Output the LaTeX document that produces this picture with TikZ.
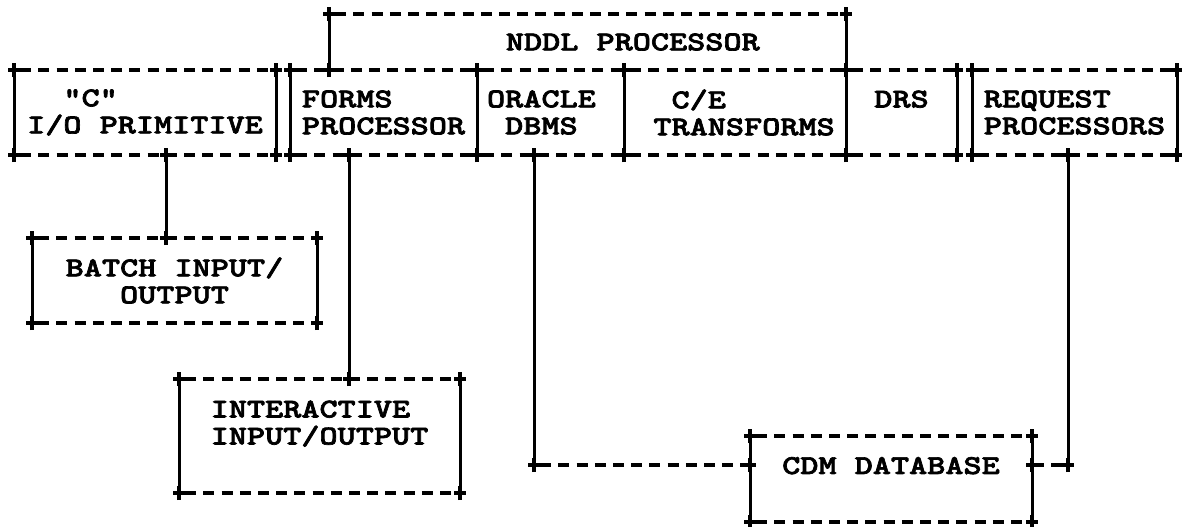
\documentclass[tikz,border=0pt]{standalone}
\usepackage{fontspec}
\newfontfamily\asciifont[FakeStretch=1.27, FakeBold=2.5]{lmmonolt10-bold.otf}
\usepackage{tikz}
\usetikzlibrary{positioning}
\tikzstyle{boxnode}=[rectangle, inner sep=0pt, outer sep=0pt, align=left,
  font=\asciifont\fontsize{13.6}{13.5}\selectfont]
\tikzstyle{hline}=[line width=1.8pt, dash pattern=on 5.5pt off 3.6pt, dash phase=6pt]
\tikzstyle{vline}=[line width=1.5pt]
\tikzstyle{crossline}=[line width=1.7pt]
\newcommand{\crossat}[1]{\draw[crossline] (#1) +(-3pt,0) -- +(3pt,0) +(0,-3.5pt) -- +(0,3.5pt);}

\begin{document}
\begin{tikzpicture}[x=0.5pt, y=-0.5pt]
        \useasboundingbox (0,0) rectangle (1182,526);

        % top row of modules
        \node[boxnode, minimum width=131pt, minimum height=42.5pt] (cprim) at (145,112.5) {\phantom{XX}"C"\\I/O PRIMITIVE};
        \node[boxnode, minimum width=93.5pt, minimum height=42.5pt, right=7pt of cprim] (forms) {FORMS\\PROCESSOR};
        \node[boxnode, minimum width=73.5pt, minimum height=42.5pt, right=0pt of forms] (oracle) {ORACLE\phantom{X}\\\phantom{X}DBMS};
        \node[boxnode, minimum width=111pt, minimum height=42.5pt, right=0pt of oracle] (ce) {\phantom{XX}C/E\\\phantom{X}TRANSFORMS};
        \node[boxnode, minimum width=55.5pt, minimum height=42.5pt, right=0pt of ce] (drs) {DRS\\\phantom{X}};
        \node[boxnode, minimum width=102.5pt, minimum height=42.5pt, right=7.5pt of drs] (request) {REQUEST\\PROCESSORS};
        \node[boxnode, minimum width=258.5pt, minimum height=28pt] (nddl) at (587.5,42) {\phantom{XXXXX}NDDL PROCESSOR};

        % lower boxes
        \node[boxnode, minimum width=142.5pt, minimum height=42.5pt] (batch) at (174.5,280.5) {BATCH INPUT/\\\phantom{XXX}OUTPUT};
        \node[boxnode, minimum width=140.5pt, minimum height=57pt] (inter) at (319.5,436) {INTERACTIVE\\INPUT/OUTPUT\\\phantom{X}};
        \node[boxnode, minimum width=141pt, minimum height=43pt] (cdm) at (891,479) {CDM DATABASE\\\phantom{X}};

        % box outlines
        \foreach \b in {cprim,forms,oracle,ce,drs,request,batch,inter,cdm} {
            \draw[hline] (\b.north west) -- (\b.north east) (\b.south west) -- (\b.south east);
            \draw[vline] (\b.north west) -- (\b.south west) (\b.north east) -- (\b.south east);
            \crossat{\b.north west}\crossat{\b.north east}\crossat{\b.south west}\crossat{\b.south east}
        }
        \draw[hline] (nddl.north west) -- (nddl.north east);
        \draw[vline] (nddl.north west) -- (nddl.south west) (nddl.north east) -- (nddl.south east);
        \crossat{nddl.north west}\crossat{nddl.north east}\crossat{nddl.south west}\crossat{nddl.south east}

        % connections
        \coordinate (tapc) at (166,0);
        \coordinate (tapf) at (349,0);
        \coordinate (tapo) at (534,465);
        \coordinate (tapr) at (1068,465);

        \draw[vline] (tapc |- cprim.south) -- (tapc |- batch.north);
        \draw[vline] (tapf |- forms.south) -- (tapf |- inter.north);
        \draw[vline] (tapo |- oracle.south) -- (tapo);
        \draw[hline] (tapo) -- (tapo -| cdm.west);
        \draw[vline] (tapr |- request.south) -- (tapr);
        \draw[hline] (tapr) -- (tapr -| cdm.east);

        \crossat{tapc |- cprim.south}\crossat{tapc |- batch.north}
        \crossat{tapf |- forms.south}\crossat{tapf |- inter.north}
        \crossat{tapo |- oracle.south}\crossat{tapo}\crossat{tapo -| cdm.west}
        \crossat{tapr |- request.south}\crossat{tapr}\crossat{tapr -| cdm.east}
\end{tikzpicture}
\end{document}
